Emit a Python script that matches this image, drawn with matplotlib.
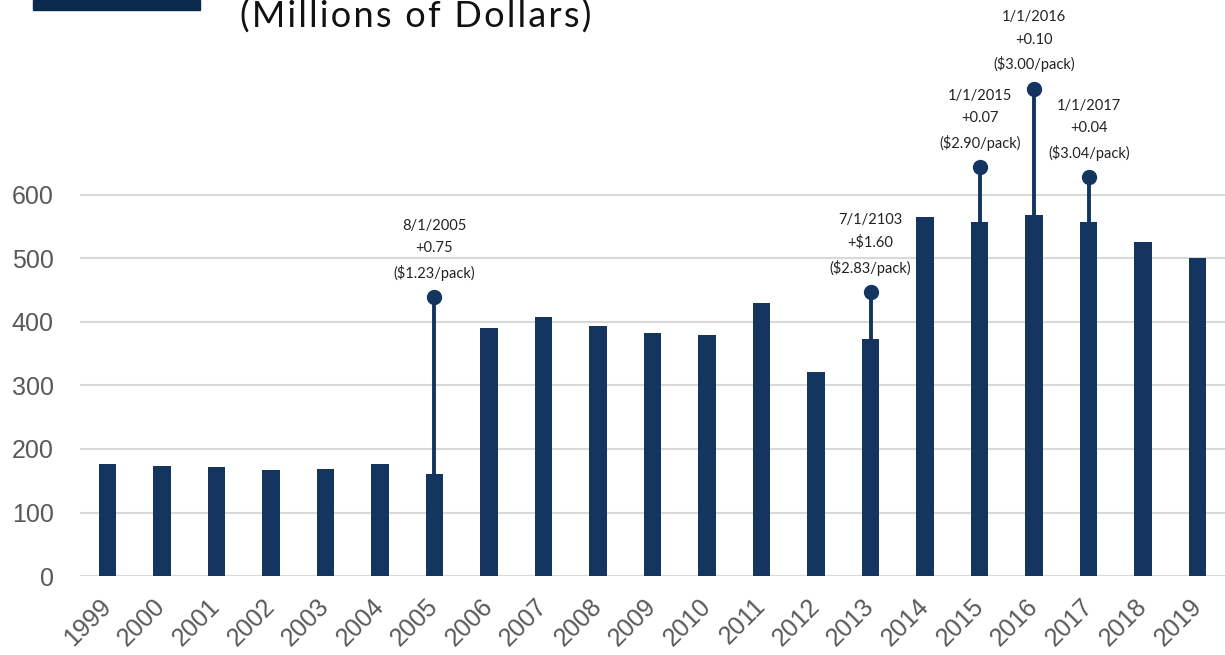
import matplotlib.pyplot as plt
from matplotlib.patches import Rectangle

years = [str(y) for y in range(1999, 2020)]
revenue = [176, 174, 171, 167, 169, 176, 160, 391, 408, 393, 382,
           380, 430, 322, 373, 566, 557, 569, 557, 526, 500]

# tax increase call-outs: year, marker height, label
note_years = ['2005', '2013', '2015', '2016', '2017']
note_tops = [439, 447, 644, 767, 628]
note_text = ['8/1/2005\n+0.75\n($1.23/pack)',
             '7/1/2103\n+$1.60\n($2.83/pack)',
             '1/1/2015\n+0.07\n($2.90/pack)',
             '1/1/2016\n+0.10\n($3.00/pack)',
             '1/1/2017\n+0.04\n($3.04/pack)']

title = '(Millions of Dollars)'

navy = '#133560'
gray = '#595959'

fig = plt.figure(figsize=(12.25, 6.55), dpi=100)
ax = fig.add_axes([0.0653, 0.1206, 0.9347, 0.8794])

x = list(range(len(years)))
ax.bar(x, revenue, width=0.32, color=navy, zorder=3)

for yr, top, txt in zip(note_years, note_tops, note_text):
    i = years.index(yr)
    ax.plot([i, i], [revenue[i], top], color=navy, lw=2.8, zorder=4,
            solid_capstyle='butt')
    ax.plot(i, top, 'o', color=navy, ms=10, zorder=5)
    ax.text(i, top + 26, txt, ha='center', va='bottom', fontsize=10.5,
            family='Lato', color='#222222', linespacing=1.75, zorder=6)

ax.set_xlim(-0.5, 20.5)
ax.set_ylim(0, 907)
ax.set_yticks(range(0, 700, 100))
ax.set_xticks(x)
ax.set_xticklabels(years, rotation=45, ha='right', va='center',
                   rotation_mode='anchor')
ax.tick_params(axis='both', length=0, labelsize=18, labelcolor=gray,
               labelfontfamily='Liberation Sans')
ax.tick_params(axis='y', pad=19)
ax.tick_params(axis='x', pad=19)
ax.grid(axis='y', color='#d9d9d9', lw=1.5, zorder=0)
for s in ax.spines.values():
    s.set_visible(False)
ax.set_facecolor('none')

fig.patches.append(Rectangle((33 / 1225, 645 / 655), 167 / 1225, 10 / 655,
                             transform=fig.transFigure, color='#0a2a4d'))
# widen the letter spacing with hair spaces (taken from DejaVu Sans)
spaced = '\u200a'.join(title)
fig.text(240 / 1225, 1 - 28 / 655, spaced, fontsize=26,
         family=['Lato', 'DejaVu Sans'], color='#111111',
         va='baseline', ha='left')

fig.savefig('out.png', dpi=100)
